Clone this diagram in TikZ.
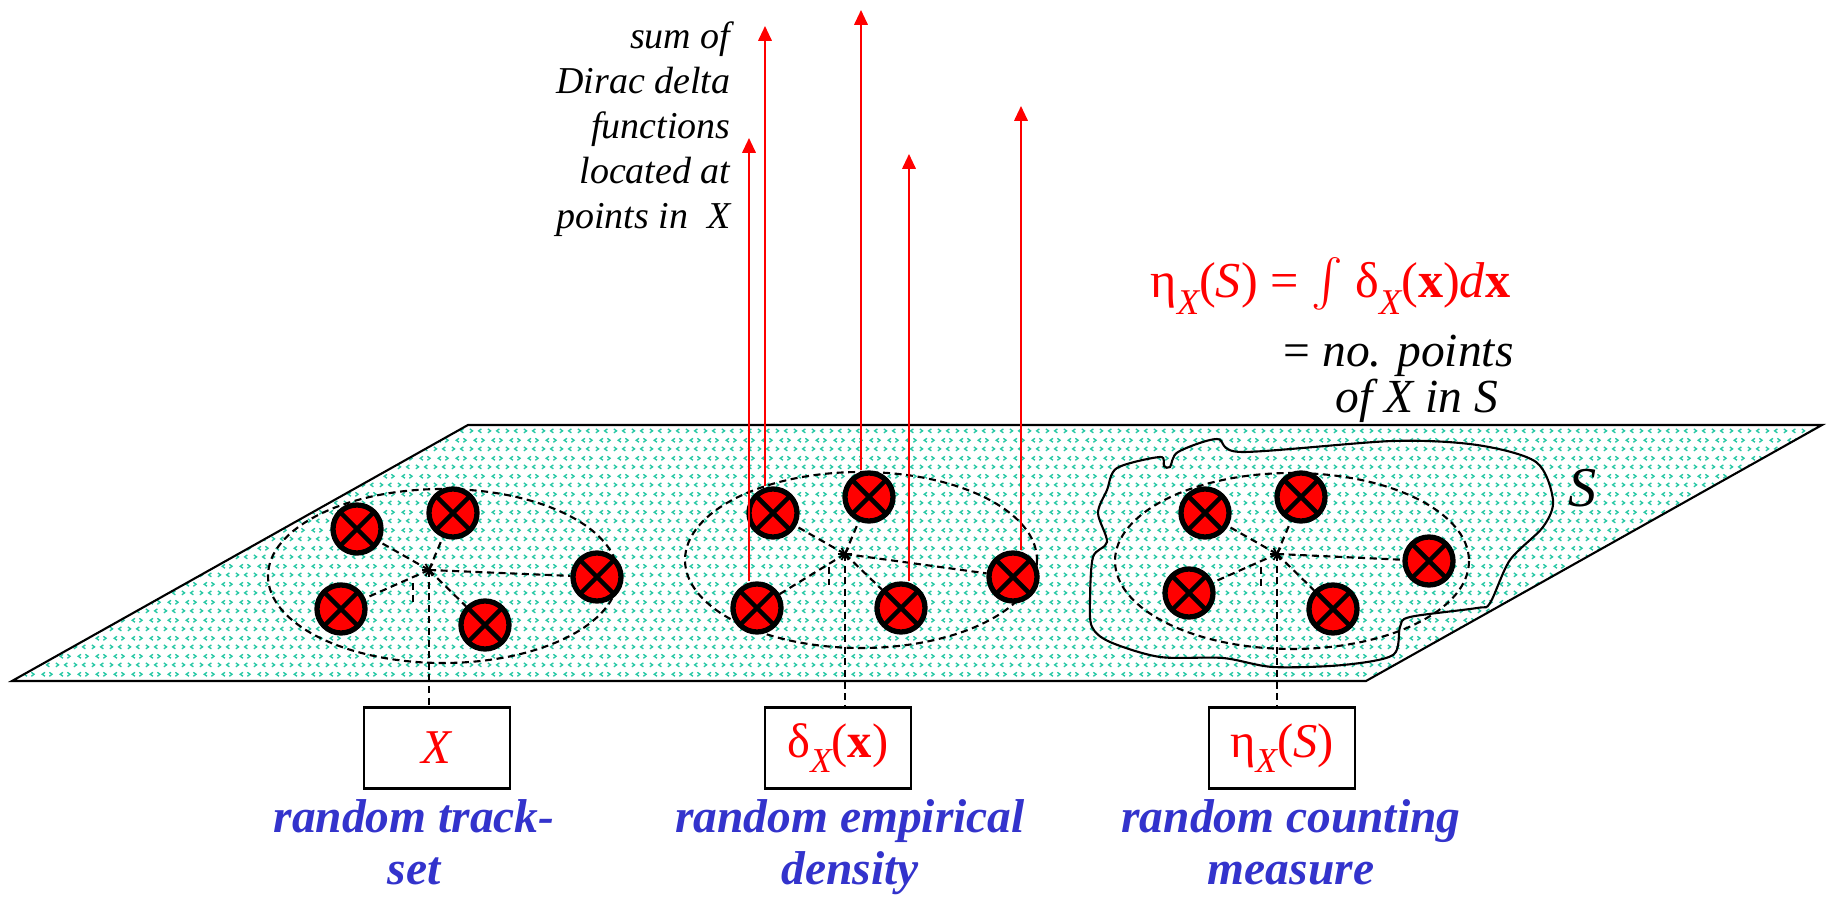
\documentclass[tikz,border=0pt]{standalone}
\usepackage{fontspec}
\setmainfont{Liberation Serif}
\usepackage{graphicx}
\usetikzlibrary{arrows.meta, patterns, positioning}
\definecolor{rojoPunto}{RGB}{255,0,0}
\definecolor{azulTexto}{RGB}{51,51,204}
\definecolor{verdeTrama}{RGB}{40,200,165}
\newcommand{\subX}{\raisebox{-0.32em}{\scalebox{0.72}{\itshape X}}}
\newcommand{\integralG}{\raisebox{-0.05em}{\scalebox{1.35}{$\int$}}}
\pgfdeclarepatternformonly{chevrones}{\pgfpointorigin}{\pgfqpoint{5.2pt}{5pt}}{\pgfqpoint{5.2pt}{5pt}}{%
  \pgfsetlinewidth{0.4pt}%
  \pgfpathmoveto{\pgfqpoint{0.55pt}{1.77pt}}\pgfpathlineto{\pgfqpoint{1.35pt}{1.2pt}}\pgfpathlineto{\pgfqpoint{0.55pt}{0.63pt}}%
  \pgfpathmoveto{\pgfqpoint{3.95pt}{1.77pt}}\pgfpathlineto{\pgfqpoint{3.15pt}{1.2pt}}\pgfpathlineto{\pgfqpoint{3.95pt}{0.63pt}}%
  \pgfpathmoveto{\pgfqpoint{2.65pt}{4.27pt}}\pgfpathlineto{\pgfqpoint{1.85pt}{3.7pt}}\pgfpathlineto{\pgfqpoint{2.65pt}{3.13pt}}%
  \pgfpathmoveto{\pgfqpoint{3.95pt}{4.27pt}}\pgfpathlineto{\pgfqpoint{4.75pt}{3.7pt}}\pgfpathlineto{\pgfqpoint{3.95pt}{3.13pt}}%
  \pgfusepath{stroke}}

\begin{document}
\begin{tikzpicture}[x=0.01cm, y=-0.01cm,
        punto/.style={circle, draw, line width=1.5pt, fill=rojoPunto, minimum size=0.48cm, inner sep=0pt,
            path picture={\draw[line width=1.3pt] (path picture bounding box.north west) -- (path picture bounding box.south east)
                (path picture bounding box.north east) -- (path picture bounding box.south west);}},
        guia/.style={dash pattern=on 2pt off 1.3pt, line width=0.6pt},
        caja/.style={rectangle, draw, line width=0.6pt, minimum width=1.46cm, minimum height=0.81cm, inner sep=0pt,
            text=rojoPunto, font=\fontsize{13.8}{15}\selectfont},
        etiqueta/.style={align=center, text=azulTexto, font=\fontsize{13.5}{14.8}\selectfont\bfseries\itshape, inner sep=0pt},
        dirac/.style={draw=rojoPunto, line width=0.6pt, -{Triangle[width=3.8pt, length=4.2pt]}}]
    \useasboundingbox (0,0) rectangle (1830,898);
    % plano
    \fill[pattern=chevrones, pattern color=verdeTrama] (12,681) -- (468,425) -- (1822,425) -- (1366,681) -- cycle;
    \draw[line width=0.6pt] (12,681) -- (468,425) -- (1822,425) -- (1366,681) -- cycle;
    % region S
    \draw[line width=0.6pt] plot[smooth cycle, tension=0.5] coordinates {(1117,468) (1160,457) (1164,466) (1170,467)
        (1178,452) (1217,439) (1242,452) (1393,441) (1477,445) (1536,462) (1553,500) (1543,527) (1510,560)
        (1490,603) (1477,608) (1410,617) (1400,627) (1393,655) (1343,665) (1273,667) (1223,658) (1160,657)
        (1110,642) (1092,627) (1090,600) (1093,557) (1107,542) (1098,513) (1107,490)};
    \node[font=\fontsize{16}{18}\selectfont\itshape] (regionS) at (1583,488) {S};
    % elipses
    \draw[guia] (443,576) ellipse [x radius=175, y radius=87];
    \draw[guia] (861,560) ellipse [x radius=176, y radius=88];
    \draw[guia] (1292,561) ellipse [x radius=177, y radius=88];
    \coordinate (sA) at (429,570);
    \coordinate (sB) at (845,554);
    \coordinate (sC) at (1277,554);
    \foreach \c in {sA,sB,sC}
        \foreach \ang in {0,60,120}
            \draw[line width=0.5pt] (\c) ++(\ang:7) -- ++(\ang+180:14);
    \draw[guia] (413,583) -- (413,602);
    \draw[guia] (829,567) -- (829,585);
    \draw[guia] (1261,567) -- (1261,586);
    % puntos
    \node[punto] (a1) at (357,529) {};
    \node[punto] (a2) at (453,513) {};
    \node[punto] (a3) at (341,609) {};
    \node[punto] (a4) at (485,625) {};
    \node[punto] (a5) at (597,577) {};
    \node[punto] (b1) at (773,513) {};
    \node[punto] (b2) at (869,497) {};
    \node[punto] (b3) at (757,608) {};
    \node[punto] (b4) at (901,608) {};
    \node[punto] (b5) at (1013,577) {};
    \node[punto] (c1) at (1205,513) {};
    \node[punto] (c2) at (1301,497) {};
    \node[punto] (c3) at (1189,593) {};
    \node[punto] (c4) at (1333,609) {};
    \node[punto] (c5) at (1429,561) {};
    \foreach \p in {a1,a2,a3,a4,a5} \draw[guia] (sA) -- (\p);
    \foreach \p in {b1,b2,b3,b4,b5} \draw[guia] (sB) -- (\p);
    \foreach \p in {c1,c2,c3,c4,c5} \draw[guia] (sC) -- (\p);
    % deltas de Dirac
    \coordinate (t1) at (749,138);
    \coordinate (t2) at (765,26);
    \coordinate (t3) at (861,10);
    \coordinate (t4) at (909,154);
    \coordinate (t5) at (1021,106);
    \draw[dirac] (b3.north -| t1) -- (t1);
    \draw[dirac] (b1.north -| t2) -- (t2);
    \draw[dirac] (b2.north -| t3) -- (t3);
    \draw[dirac] (b4.north -| t4) -- (t4);
    \draw[dirac] (b5.north -| t5) -- (t5);
    \node[anchor=north east, align=right, inner sep=0pt, font=\fontsize{10.8}{12.8}\selectfont\itshape] (suma) at (731,21)
        {sum of\\Dirac delta\\functions\\located at\\points in \ X};
    % formula
    \node[anchor=base west, inner sep=0pt, text=rojoPunto, font=\fontsize{14.3}{15}\selectfont] (integral) at (1150,298)
        {η\subX(\textit{S}) = \integralG\ δ\subX(\textbf{x})\textit{d}\textbf{x}};
    \node[anchor=base west, inner sep=0pt, font=\fontsize{13.5}{15}\selectfont] (nopuntos) at (1283,367) {= \textit{no. points}};
    \node[anchor=base west, inner sep=0pt, font=\fontsize{13.5}{15}\selectfont\itshape] (deXenS) at (1335,413) {of X in S};
    % cajas
    \node[caja] (cajaX) at (437,748) {\textit{X}};
    \node[caja] (cajaDelta) at (838,748) {δ\subX(\textbf{x})};
    \node[caja] (cajaEta) at (1282,748) {η\subX(\textit{S})};
    \draw[guia] (sA) -- (sA |- cajaX.north);
    \draw[guia] (sB) -- (sB |- cajaDelta.north);
    \draw[guia] (sC) -- (sC |- cajaEta.north);
    \node[etiqueta, anchor=base] (lblX) at (414,885) {random track-\\set};
    \node[etiqueta, anchor=base] (lblDelta) at (850,885) {random empirical\\density};
    \node[etiqueta, anchor=base] (lblEta) at (1291,885) {random counting\\measure};
\end{tikzpicture}
\end{document}
